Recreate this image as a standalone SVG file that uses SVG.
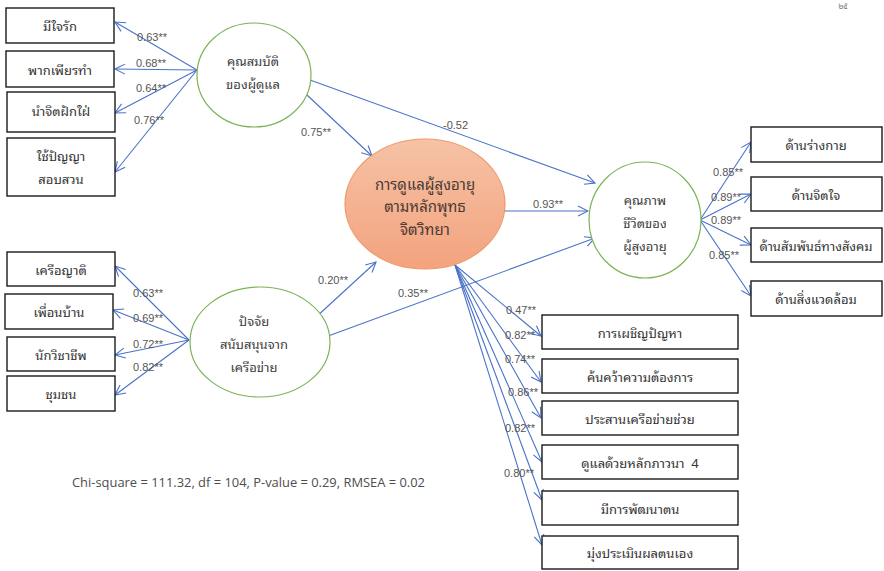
<svg xmlns="http://www.w3.org/2000/svg" width="884" height="571" viewBox="0 0 884 571">
<defs>
<marker id="arr" markerWidth="12" markerHeight="12" refX="11" refY="6" orient="auto" markerUnits="userSpaceOnUse">
<path d="M1,1 L11,6 L1,11" fill="none" stroke="#4A72C8" stroke-width="1.1"/>
</marker>
<linearGradient id="og" x1="0" y1="0" x2="0" y2="1">
<stop offset="0" stop-color="#F6C2A6"/>
<stop offset="1" stop-color="#F3A37E"/>
</linearGradient>
<style>
.box{fill:#fff;stroke:#1a1a1a;stroke-width:1.4}
.lat{fill:#fff;stroke:#7CB356;stroke-width:1.2}
.bt{font-family:"Noto Sans Thai Looped","Leelawadee UI",Tahoma,"Noto Sans Thai","Noto Sans","DejaVu Sans",sans-serif;font-size:13px;fill:#333;text-anchor:middle;dominant-baseline:central}
.ct{font-family:"Noto Sans Thai Looped","Leelawadee UI",Tahoma,"Noto Sans Thai","Noto Sans","DejaVu Sans",sans-serif;font-size:13px;fill:#404040;text-anchor:middle;dominant-baseline:central}
.mt{font-family:"Noto Sans Thai Looped","Leelawadee UI",Tahoma,"Noto Sans Thai","Noto Sans","DejaVu Sans",sans-serif;font-size:15px;fill:#4a3a33;text-anchor:middle;dominant-baseline:central}
.lb{font-family:"Liberation Sans",Arial,sans-serif;font-size:11px;fill:#555;dominant-baseline:central}
.cn line{stroke:#4A72C8;stroke-width:1.1;marker-end:url(#arr)}
</style>
</defs>
<rect width="884" height="571" fill="#fff"/>
<text x="843" y="7" font-family="Noto Sans Thai,Tahoma,sans-serif" font-size="8" fill="#777" text-anchor="middle" dominant-baseline="central">๒๕</text>

<g id="connectors" class="cn">
<line x1="197" y1="70" x2="115" y2="22"/>
<line x1="197" y1="70" x2="115" y2="69"/>
<line x1="197" y1="70" x2="115" y2="113"/>
<line x1="197" y1="70" x2="115" y2="172"/>
<line x1="189" y1="340" x2="115" y2="266"/>
<line x1="189" y1="340" x2="113" y2="310"/>
<line x1="189" y1="340" x2="115" y2="355"/>
<line x1="189" y1="340" x2="115" y2="395"/>
<line x1="307" y1="95" x2="372" y2="156"/>
<line x1="310" y1="80" x2="595" y2="183"/>
<line x1="505" y1="211" x2="588" y2="211"/>
<line x1="315" y1="318" x2="376" y2="262"/>
<line x1="320" y1="339" x2="595" y2="238"/>
<line x1="700" y1="220" x2="751" y2="142"/>
<line x1="700" y1="220" x2="751" y2="194"/>
<line x1="700" y1="220" x2="751" y2="245"/>
<line x1="700" y1="220" x2="751" y2="296"/>
<line x1="455" y1="265" x2="541" y2="336"/>
<line x1="455" y1="265" x2="541" y2="382"/>
<line x1="455" y1="265" x2="541" y2="418"/>
<line x1="455" y1="265" x2="542" y2="462"/>
<line x1="455" y1="265" x2="542" y2="500"/>
<line x1="455" y1="265" x2="542" y2="545"/>
</g>

<g id="labels">
<text class="lb" x="137" y="37">0.63**</text>
<text class="lb" x="136" y="63">0.68**</text>
<text class="lb" x="136" y="88">0.64**</text>
<text class="lb" x="134" y="120">0.76**</text>
<text class="lb" x="133" y="293">0.63**</text>
<text class="lb" x="133" y="318">0.69**</text>
<text class="lb" x="133" y="344">0.72**</text>
<text class="lb" x="133" y="367">0.82**</text>
<text class="lb" x="301" y="132">0.75**</text>
<text class="lb" x="443" y="125">-0.52</text>
<text class="lb" x="533" y="204">0.93**</text>
<text class="lb" x="318" y="280">0.20**</text>
<text class="lb" x="398" y="293">0.35**</text>
<text class="lb" x="713" y="172">0.85**</text>
<text class="lb" x="711" y="197">0.89**</text>
<text class="lb" x="711" y="220">0.89**</text>
<text class="lb" x="709" y="255">0.85**</text>
<text class="lb" x="506" y="310">0.47**</text>
<text class="lb" x="505" y="335">0.82**</text>
<text class="lb" x="505" y="359">0.74**</text>
<text class="lb" x="508" y="392">0.86**</text>
<text class="lb" x="505" y="428">0.82**</text>
<text class="lb" x="504" y="473">0.80**</text>
</g>

<g id="n-caregiver">
<ellipse class="lat" cx="254" cy="75" rx="57" ry="52"/>
<text class="ct" x="253" y="60">คุณสมบัติ</text>
<text class="ct" x="253" y="83">ของผู้ดูแล</text>
</g>
<g id="n-support">
<ellipse class="lat" cx="260" cy="342" rx="70" ry="55"/>
<text class="ct" x="254" y="320">ปัจจัย</text>
<text class="ct" x="254" y="343">สนับสนุนจาก</text>
<text class="ct" x="254" y="366">เครือข่าย</text>
</g>
<g id="n-care">
<ellipse cx="425" cy="204" rx="80" ry="65" fill="url(#og)" stroke="#EE9A68" stroke-width="1.2"/>
<text class="mt" x="425" y="183">การดูแลผู้สูงอายุ</text>
<text class="mt" x="425" y="205">ตามหลักพุทธ</text>
<text class="mt" x="425" y="228">จิตวิทยา</text>
</g>
<g id="n-qol">
<ellipse class="lat" cx="645" cy="220" rx="56" ry="58"/>
<text class="ct" x="645" y="199">คุณภาพ</text>
<text class="ct" x="645" y="222">ชีวิตของ</text>
<text class="ct" x="645" y="245">ผู้สูงอายุ</text>
</g>

<g id="n-b1"><rect class="box" x="6" y="8" width="108" height="35"/><text class="bt" x="60" y="25">มีใจรัก</text></g>
<g id="n-b2"><rect class="box" x="6" y="51" width="108" height="36"/><text class="bt" x="60" y="69">พากเพียรทำ</text></g>
<g id="n-b3"><rect class="box" x="7" y="92" width="108" height="40"/><text class="bt" x="61" y="110">นำจิตฝักใฝ่</text></g>
<g id="n-b4"><rect class="box" x="7" y="138" width="108" height="58"/><text class="bt" x="61" y="155">ใช้ปัญญา</text><text class="bt" x="61" y="178">สอบสวน</text></g>

<g id="n-s1"><rect class="box" x="7" y="252" width="108" height="34"/><text class="bt" x="61" y="269">เครือญาติ</text></g>
<g id="n-s2"><rect class="box" x="5" y="294" width="108" height="35"/><text class="bt" x="59" y="311">เพื่อนบ้าน</text></g>
<g id="n-s3"><rect class="box" x="7" y="337" width="108" height="34"/><text class="bt" x="61" y="354">นักวิชาชีพ</text></g>
<g id="n-s4"><rect class="box" x="7" y="376" width="108" height="35"/><text class="bt" x="61" y="393">ชุมชน</text></g>

<g id="n-q1"><rect class="box" x="751" y="127" width="131" height="35"/><text class="bt" x="816" y="144">ด้านร่างกาย</text></g>
<g id="n-q2"><rect class="box" x="751" y="177" width="131" height="34"/><text class="bt" x="816" y="194">ด้านจิตใจ</text></g>
<g id="n-q3"><rect class="box" x="751" y="228" width="131" height="34"/><text class="bt" x="816" y="245">ด้านสัมพันธ์ทางสังคม</text></g>
<g id="n-q4"><rect class="box" x="751" y="281" width="131" height="35"/><text class="bt" x="816" y="298">ด้านสิ่งแวดล้อม</text></g>

<g id="n-c1"><rect class="box" x="542" y="315" width="196" height="34"/><text class="bt" x="640" y="332">การเผชิญปัญหา</text></g>
<g id="n-c2"><rect class="box" x="542" y="359" width="196" height="34"/><text class="bt" x="640" y="376">ค้นคว้าความต้องการ</text></g>
<g id="n-c3"><rect class="box" x="542" y="401" width="196" height="34"/><text class="bt" x="640" y="418">ประสานเครือข่ายช่วย</text></g>
<g id="n-c4"><rect class="box" x="542" y="445" width="196" height="34"/><text class="bt" x="640" y="462" xml:space="preserve">ดูแลด้วยหลักภาวนา  4</text></g>
<g id="n-c5"><rect class="box" x="542" y="491" width="196" height="34"/><text class="bt" x="640" y="508">มีการพัฒนาตน</text></g>
<g id="n-c6"><rect class="box" x="542" y="536" width="196" height="33"/><text class="bt" x="640" y="552">มุ่งประเมินผลตนเอง</text></g>

<text x="72" y="482" font-family="'Open Sans','Noto Sans',sans-serif" font-size="13" fill="#4d4d4d" dominant-baseline="central" textLength="353" lengthAdjust="spacingAndGlyphs">Chi-square = 111.32, df = 104, P-value = 0.29, RMSEA = 0.02</text>
</svg>
